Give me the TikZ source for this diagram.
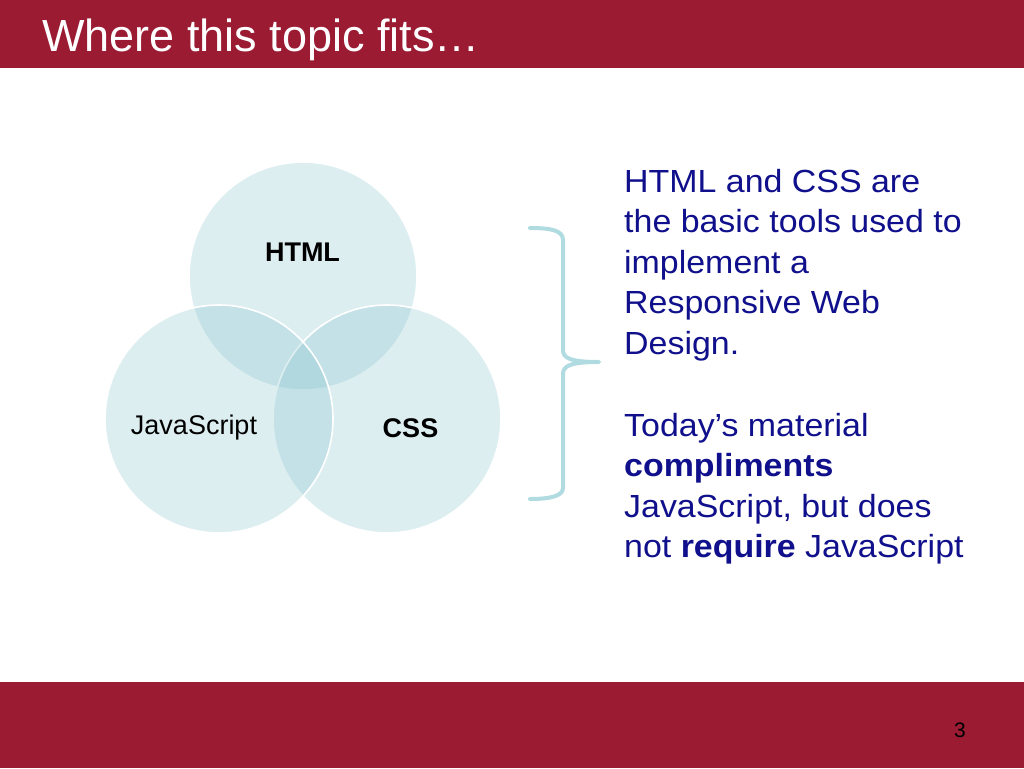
\documentclass[tikz,border=0pt]{standalone}
\usepackage{fontspec}
\setmainfont{Liberation Sans}
\newfontfamily\bodyfont[FakeStretch=1.06]{Liberation Sans}
\definecolor{barred}{RGB}{155,27,51}
\definecolor{venn}{RGB}{120,190,200}
\definecolor{bracecol}{RGB}{176,219,224}
\definecolor{navy}{RGB}{16,16,140}
\tikzset{
  vennc/.style={circle, minimum size=228pt, inner sep=0pt, fill=venn, fill opacity=0.25, draw=white, draw opacity=1, line width=1.6pt},
  vlabel/.style={text=black, font=\fontsize{27}{32}\selectfont, inner sep=0pt},
  bodyline/.style={anchor=base west, text=navy, font=\bodyfont\fontsize{32}{38}\selectfont, inner sep=0pt},
}
\begin{document}
\begin{tikzpicture}[x=1pt,y=-1pt]
\useasboundingbox (0,0) rectangle (1024,768);
\fill[white] (0,0) rectangle (1024,768);
% bars
\fill[barred] (0,0) rectangle (1024,68);
\fill[barred] (0,682) rectangle (1024,768);
\node (title) [anchor=base west, text=white, font=\fontsize{45}{54}\selectfont, inner sep=0pt] at (42,52) {Where this topic fits…};
\node (pagenum) [text=black, font=\fontsize{21}{25}\selectfont, inner sep=0pt] at (960,730) {3};
% venn
\node (html) [vennc] at (303,276) {};
\node (css) [vennc] at (387,419) {};
\node (js) [vennc] at (219,419) {};
\node (htmllbl) [vlabel, font=\fontsize{27}{32}\selectfont\bfseries] at (302.5,252) {HTML};
\node (jslbl) [vlabel] at (194,428) {JavaScript};
\node (csslbl) [vlabel, font=\fontsize{27}{32}\selectfont\bfseries] at (410.5,428) {CSS};
% brace
\coordinate (bt) at (530,228);
\coordinate (btip) at (599,362);
\coordinate (bb) at (530,499);
\draw[bracecol, line width=4pt, line cap=round, line join=round]
  (bt) .. controls (550,228) and (563,230) .. (563,240)
  -- (563,350) .. controls (563,358) and (570,362) .. (btip)
  .. controls (570,362) and (563,366) .. (563,374)
  -- (563,488) .. controls (563,496) and (550,499) .. (bb);
% text
\node (l1) [bodyline] at (624,192) {HTML and CSS are};
\node (l2) [bodyline] at (624,232.5) {the basic tools used to};
\node (l3) [bodyline] at (624,273) {implement a};
\node (l4) [bodyline] at (624,313.5) {Responsive Web};
\node (l5) [bodyline] at (624,354) {Design.};
\node (l6) [bodyline] at (624,436) {Today’s material};
\node (l7) [bodyline] at (624,476.5) {\bfseries compliments};
\node (l8) [bodyline] at (624,517) {JavaScript, but does};
\node (l9) [bodyline] at (624,557.5) {not \textbf{require} JavaScript};
\end{tikzpicture}
\end{document}
